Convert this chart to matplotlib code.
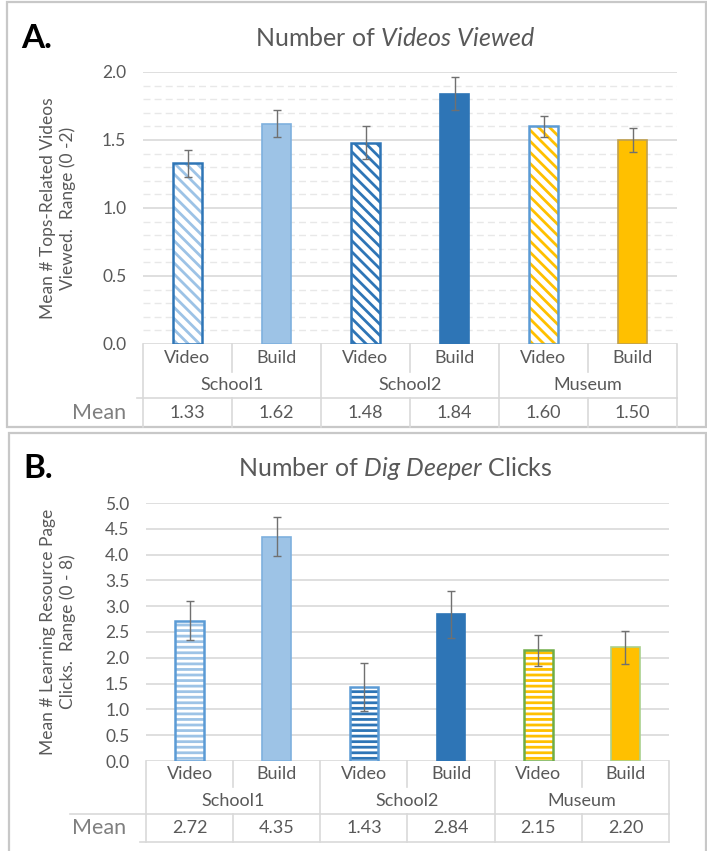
import matplotlib
matplotlib.use("Agg")
from matplotlib import pyplot as plt
from matplotlib.patches import Rectangle
from matplotlib.transforms import blended_transform_factory
import numpy as np

groups = ["School1", "School2", "Museum"]
conditions = ["Video", "Build", "Video", "Build", "Video", "Build"]

videos_mean = [1.33, 1.62, 1.48, 1.84, 1.60, 1.50]
videos_err = [0.10, 0.10, 0.12, 0.12, 0.08, 0.085]

clicks_mean = [2.72, 4.35, 1.43, 2.84, 2.15, 2.20]
clicks_err = [0.38, 0.37, 0.47, 0.46, 0.30, 0.32]

LIGHT = "#9DC3E6"
DARK = "#2E75B6"
GOLD = "#FFC000"
TXT = "#595959"
GRID = "#d9d9d9"

plt.rcParams["font.family"] = ["Lato", "DejaVu Sans"]
plt.rcParams["mathtext.fontset"] = "custom"
plt.rcParams["mathtext.rm"] = "Lato"
plt.rcParams["mathtext.it"] = "Lato:italic"
plt.rcParams["hatch.linewidth"] = 2.0

W, H = 707, 851
fig = plt.figure(figsize=(W / 100, H / 100), dpi=100)


def fy(py):
    return 1 - py / H


def fx(px):
    return px / W


def draw_panel(left, right, top, bottom, ymax, means, errs, hatch, fills, hcols,
               edges, minor, ylabel, title, letter, rows, mean_lab_y, frame):
    ax = fig.add_axes([fx(left), fy(bottom), fx(right - left), (bottom - top) / H])
    x = np.arange(len(means))
    for i in range(len(means)):
        if hcols[i] is not None:
            ax.bar(x[i], means[i], 0.33, color="white", edgecolor=hcols[i],
                   hatch=hatch, linewidth=0, zorder=3)
            ax.bar(x[i], means[i], 0.33, fill=False, edgecolor=edges[i],
                   linewidth=1.8, zorder=4)
        else:
            ax.bar(x[i], means[i], 0.33, color=fills[i], edgecolor=edges[i],
                   linewidth=1.2, zorder=3)
    ax.errorbar(x, means, yerr=errs, fmt="none", ecolor="#707070",
                elinewidth=1.0, capsize=3, capthick=1.0, zorder=5)
    ax.set_xlim(-0.5, len(means) - 0.5)
    ax.set_ylim(0, ymax)
    ax.set_yticks(np.arange(0, ymax + 0.01, 0.5))
    ax.set_yticklabels([f"{v:.1f}" for v in np.arange(0, ymax + 0.01, 0.5)])
    ax.tick_params(axis="y", length=0, pad=12, labelsize=12.5, labelcolor=TXT)
    ax.set_xticks([])
    for s in ax.spines.values():
        s.set_visible(False)
    for v in np.arange(0, ymax + 0.01, 0.5):
        ax.axhline(v, color=GRID, lw=1.2, zorder=1)
    if minor:
        for v in np.arange(0.1, ymax, 0.1):
            if abs(v / 0.5 - round(v / 0.5)) > 0.01:
                ax.axhline(v, color="#e8e8e8", lw=1.0, ls=(0, (5, 3)), zorder=1)
    fig.text(fx(58), fy((top + bottom) / 2), ylabel, rotation=90, ha="center",
             va="center", fontsize=12.5, color=TXT, linespacing=1.2)

    fig.text(fx(395), fy(top - 34), title, ha="center", va="center",
             fontsize=18, color=TXT)
    fig.text(fx(frame[0] + 14), fy(top - 34), letter, ha="left", va="center",
             fontsize=24, fontweight="bold", color="black")

    # table below the plot
    tr = blended_transform_factory(ax.transData, fig.transFigure)
    r1, r2, r3, r4 = rows
    for b in [0.5, 2.5, 4.5]:
        fig.add_artist(plt.Line2D([b, b], [fy(r1), fy(r2)], transform=tr,
                                  color=GRID, lw=1.2))
    for b in [-0.5, 1.5, 3.5, 5.5]:
        fig.add_artist(plt.Line2D([b, b], [fy(r1), fy(r3)], transform=tr,
                                  color=GRID, lw=1.2))
    for b in np.arange(-0.5, 6.0, 1.0):
        fig.add_artist(plt.Line2D([b, b], [fy(r3), fy(r4)], transform=tr,
                                  color=GRID, lw=1.2))
    fig.add_artist(plt.Line2D([fx(mean_lab_y[0]), fx(right)], [fy(r3), fy(r3)],
                              color=GRID, lw=1.2))
    if mean_lab_y[1]:
        fig.add_artist(plt.Line2D([fx(140), fx(right)], [fy(r4), fy(r4)],
                                  color=GRID, lw=1.2))
    for i, c in enumerate(conditions):
        ax.text(x[i], fy((r1 + r2) / 2), c, transform=tr, ha="center",
                va="center", fontsize=13, color=TXT)
        ax.text(x[i], fy((r3 + r4) / 2), f"{means[i]:.2f}", transform=tr,
                ha="center", va="center", fontsize=13, color=TXT)
    for g, name in enumerate(groups):
        ax.text(2 * g + 0.5, fy((r2 + r3) / 2), name, transform=tr, ha="center",
                va="center", fontsize=13, color=TXT)
    fig.text(fx(99), fy((r3 + r4) / 2), "Mean", ha="center", va="center",
             fontsize=15.5, color="#7f7f7f")

    fl, ft, fr, fb = frame
    fig.add_artist(Rectangle((fx(fl), fy(fb)), fx(fr - fl), (fb - ft) / H,
                             transform=fig.transFigure, fill=False,
                             edgecolor="#c8c8c8", lw=1.6))
    return ax


draw_panel(143, 677, 72, 344, 2.0, videos_mean, videos_err, "\\\\\\",
           [None, LIGHT, None, DARK, None, GOLD],
           [LIGHT, None, DARK, None, GOLD, None],
           [DARK, "#7EB0DE", DARK, DARK, "#5B9BD5", "#BFA050"],
           True, "Mean # Tops-Related Videos\nViewed.  Range (0 -2)",
           r"Number of $\mathit{Videos\ Viewed}$", "A.",
           (344, 372, 398, 427), (137, False), (7, 2, 706, 427))

draw_panel(146, 669, 503, 761, 5.0, clicks_mean, clicks_err, "---",
           [None, LIGHT, None, DARK, None, GOLD],
           [LIGHT, None, DARK, None, GOLD, None],
           ["#5B9BD5", "#7EB0DE", "#5B9BD5", DARK, "#70AD47", "#A9D18E"],
           False, "Mean # Learning Resource Page\nClicks.  Range (0 - 8)",
           r"Number of $\mathit{Dig\ Deeper}$ Clicks", "B.",
           (761, 787, 814, 842), (70, True), (9, 433, 706, 860))

fig.savefig("out.png", dpi=100)
